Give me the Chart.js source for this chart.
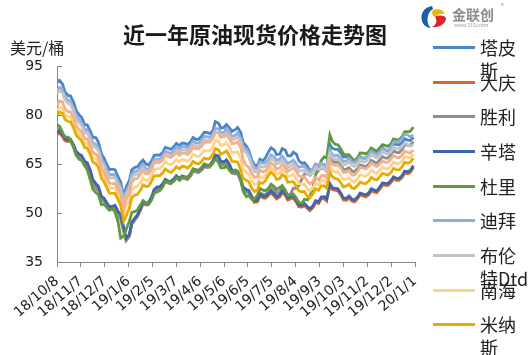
<!DOCTYPE html>
<html><head><meta charset="utf-8">
<script src="https://cdn.jsdelivr.net/npm/chart.js@4"></script>
<style>
html,body{margin:0;padding:0;background:#fff;}
#wrap{position:relative;width:532px;height:355px;overflow:hidden;font-family:"Noto Sans CJK SC","Noto Sans",sans-serif;color:#222;}
canvas{position:absolute;left:0;top:0;}
.t{position:absolute;white-space:nowrap;}
.lg{position:absolute;left:433px;width:42px;height:3px;}
.lt{position:absolute;left:480px;font-size:18px;line-height:23px;white-space:nowrap;color:#222;}
</style></head><body>
<div id="wrap">
<canvas id="c" width="532" height="355"></canvas>
<div class="t" style="left:0;width:510px;text-align:center;top:22px;font-size:22px;line-height:22px;font-weight:bold;color:#1a1a1a;">近一年原油现货价格走势图</div>
<div class="t" style="left:10px;top:39px;font-size:16px;line-height:16px;">美元/桶</div>
<svg style="position:absolute;left:419px;top:4px" width="30" height="26" viewBox="0 0 30 26">
<path d="M13 2 C5 3 1 10 3 17 C4 21 8 24 12 24 C7 20 7 9 14 5 Z" fill="#1f5fa8"/>
<path d="M14 6 C19 4 25 6 26 10 C22 9 18 10 16 13 C14 12 12 9 14 6 Z" fill="#f2b200"/>
<path d="M16 13 C19 11 25 11 27 14 C27 20 20 24 13 23 C17 21 19 17 16 13 Z" fill="#d9252d"/>
</svg>
<div class="t" style="left:452px;top:7px;font-size:14px;line-height:14px;font-weight:bold;color:#8a8a8a;">金联创</div>
<div class="t" style="left:501px;top:3px;font-size:6px;line-height:6px;color:#8a8a8a;">®</div>
<div class="t" style="left:454px;top:22px;font-size:5px;line-height:5px;color:#999;">www.315i.com</div>
<div id="legend"></div>
</div>
<script>
// day offsets from 2018-10-08 (weekly readings and mid-week readings)
const days = [0,7,14,21,28,35,42,49,56,63,70,77,84,91,98,105,112,119,126,133,140,147,154,161,168,175,182,189,196,203,210,217,224,231,238,245,252,259,266,273,280,287,294,301,308,315,322,329,336,343,350,357,364,371,378,385,392,399,406,413,420,427,434,441,448];
const daysMid = [3,10,17,24,31,38,45,52,59,66,73,80,87,94,101,108,115,122,129,136,143,150,157,164,171,178,185,192,199,206,213,220,227,234,241,248,255,262,269,276,283,290,297,304,311,318,325,332,339,346,353,360,367,374,381,388,395,402,409,416,423,430,437,444];
const tickDays = [0,30,60,90,120,150,180,210,240,270,300,330,360,390,420,450];
const tickLabels = ['18/10/8','18/11/7','18/12/7','19/1/6','19/2/5','19/3/7','19/4/6','19/5/6','19/6/5','19/7/5','19/8/4','19/9/3','19/10/3','19/11/2','19/12/2','20/1/1'];
const yTicks = [35,50,65,80,95];

const tapis = [90.2,89.4,86.0,83.8,80.0,77.0,75.0,73.0,68.0,64.6,63.4,61.0,55.0,60.0,64.0,65.4,65.0,66.0,67.8,68.6,69.8,70.3,70.6,71.3,71.8,72.5,73.6,74.6,75.2,77.5,76.2,76.0,75.5,74.6,70.5,66.2,64.5,66.0,68.8,69.3,68.0,69.3,67.5,68.0,65.2,64.2,63.4,64.5,64.7,71.0,69.5,68.3,67.2,66.7,66.2,66.8,67.8,68.6,69.3,69.3,69.5,71.0,71.6,72.3,73.2];
const tapisMid = [90.6,87.1,85.8,81.4,79.2,77.0,73.2,71.7,66.9,63.3,63.2,59.5,58.0,63.2,64.1,66.2,64.7,67.6,67.7,70.1,69.5,71.3,71.4,70.9,73.1,72.6,74.7,74.3,78.0,76.0,77.1,75.0,76.2,71.6,69.2,64.7,66.5,66.9,70.0,67.9,69.7,67.5,68.6,66.0,65.4,63.0,64.9,65.2,64.0,69.8,69.5,67.1,67.8,65.9,67.2,66.8,69.0,68.3,69.9,68.8,71.1,70.8,72.7,72.2];
const daqing = [74.0,73.4,71.9,70.2,67.4,65.2,62.4,58.4,54.4,52.4,51.5,49.8,44.9,42.9,47.9,50.9,52.4,54.4,57.4,58.4,59.2,59.9,60.0,60.5,61.4,62.6,63.2,64.0,65.4,66.9,65.1,64.2,62.2,59.9,56.6,54.4,53.4,54.6,55.4,55.2,54.9,55.4,54.4,53.2,51.8,51.3,51.7,52.9,54.4,58.4,56.9,55.4,53.9,53.6,54.4,55.2,55.6,56.4,57.4,58.5,59.4,60.0,60.9,62.0,63.9];
const daqingMid = [74.5,72.1,72.0,68.3,67.0,64.8,59.6,57.6,54.0,51.3,51.7,48.9,41.6,46.6,48.8,52.7,52.6,56.6,57.4,59.7,59.0,60.8,60.7,60.3,62.9,62.4,64.2,64.1,67.2,65.1,65.7,62.4,62.2,57.3,56.3,53.2,55.2,54.5,56.2,54.3,56.2,54.0,54.6,51.9,52.3,50.7,53.2,54.3,53.7,57.2,56.8,54.0,54.6,53.4,55.5,54.9,56.8,56.2,58.6,58.4,60.5,60.0,62.2,62.4];
const shengli = [75.5,74.5,72.8,70.0,67.0,64.8,61.5,57.5,53.8,52.3,51.6,49.0,44.0,43.0,48.0,51.0,52.6,54.4,57.2,58.4,59.2,59.9,60.2,60.6,61.4,62.6,63.2,64.0,65.3,66.6,64.8,63.9,62.0,59.8,56.4,54.5,54.2,55.8,56.6,57.0,56.6,56.5,56.0,57.5,60.5,62.0,62.6,63.0,63.5,67.0,65.5,64.6,63.4,62.8,63.6,64.4,65.0,65.6,66.3,66.8,68.0,68.5,69.5,70.8,71.8];
const shengliMid = [75.8,73.1,72.3,68.0,66.6,64.2,58.7,56.9,53.7,51.3,51.3,48.0,41.8,46.7,48.9,52.8,52.7,56.5,57.3,59.7,59.0,60.9,60.8,60.3,62.9,62.4,64.2,64.1,67.0,64.8,65.4,62.2,62.0,57.1,56.3,53.7,56.2,55.7,57.7,56.0,57.6,55.4,57.6,58.4,62.0,61.5,63.7,63.9,62.8,65.8,65.7,63.3,63.9,62.6,64.7,64.2,66.1,65.3,67.2,66.8,69.1,68.5,70.9,70.7];
const xinta = [74.6,74.0,72.5,70.8,68.0,65.8,63.0,59.0,55.0,53.0,52.1,50.4,45.5,43.5,48.5,51.5,53.0,55.0,58.0,59.0,59.8,60.5,60.6,61.1,62.0,63.2,63.8,64.6,66.0,67.5,65.7,64.8,62.8,60.5,57.2,55.0,54.0,55.2,56.0,55.8,55.5,56.0,55.0,53.8,52.4,51.9,52.3,53.5,55.0,59.0,57.5,56.0,54.5,54.2,55.0,55.8,56.2,57.0,58.0,59.1,60.0,60.6,61.5,62.6,64.5];
const xintaMid = [75.1,72.7,72.6,68.9,67.6,65.4,60.2,58.2,54.6,51.9,52.3,49.5,42.2,47.2,49.4,53.3,53.2,57.2,58.0,60.3,59.6,61.4,61.3,60.9,63.5,63.0,64.8,64.7,67.8,65.7,66.3,63.0,62.8,57.9,56.9,53.8,55.8,55.1,56.8,54.9,56.8,54.6,55.2,52.5,52.9,51.3,53.8,54.9,54.3,57.8,57.4,54.6,55.2,54.0,56.1,55.5,57.4,56.8,59.2,59.0,61.1,60.6,62.8,63.0];
const duri = [77.0,74.6,73.2,70.0,66.4,64.4,60.0,56.2,52.5,51.6,51.3,47.0,43.0,47.5,50.5,52.5,53.0,54.0,56.5,58.0,59.6,59.8,60.1,61.0,61.8,63.2,64.0,64.7,65.4,65.5,63.8,63.0,63.2,60.1,55.0,54.2,55.5,57.0,57.6,58.1,57.8,57.0,55.5,54.5,53.0,54.0,58.0,63.5,67.2,73.9,71.0,69.5,67.8,66.2,67.0,68.3,68.8,69.3,70.0,70.6,71.3,72.4,73.4,74.9,76.3];
const duriMid = [76.6,73.3,72.5,67.7,66.1,63.2,57.3,55.6,52.7,50.8,50.2,42.3,45.0,50.2,50.9,53.8,52.7,56.0,56.8,59.7,59.1,60.8,61.0,60.7,63.4,63.1,65.0,64.5,66.5,63.8,64.4,62.3,62.8,56.6,55.4,54.2,57.5,56.8,58.8,57.2,58.4,55.4,55.8,53.2,54.2,55.2,61.7,66.0,66.8,72.0,70.9,68.0,67.8,66.0,68.4,68.1,69.9,69.0,70.9,70.4,72.7,72.4,74.9,75.0];
const dubai = [87.5,87.8,84.5,82.0,78.5,75.5,73.5,71.0,66.5,63.0,61.8,59.5,54.0,58.5,62.8,64.0,63.5,64.8,66.5,67.4,68.5,69.0,69.6,70.3,70.8,71.4,72.4,73.3,74.0,75.8,74.8,74.5,73.8,73.0,69.5,65.5,63.5,65.2,66.5,67.2,66.5,66.2,65.7,65.0,64.2,63.2,63.7,64.5,64.7,69.3,67.5,66.7,66.0,65.7,66.2,66.7,67.8,68.3,68.8,69.3,70.0,71.8,72.8,73.9,73.9];
const dubaiMid = [88.5,85.6,84.2,79.8,77.7,75.5,71.5,70.0,65.4,61.7,61.7,58.3,56.8,61.9,62.8,64.8,63.4,66.4,66.5,68.9,68.2,70.1,70.4,69.9,72.0,71.4,73.5,73.1,75.9,74.4,75.7,73.4,74.5,70.3,68.3,63.8,65.6,65.4,67.8,66.1,67.4,65.1,66.2,64.0,64.4,62.7,65.0,65.2,64.0,67.9,67.7,65.7,66.7,65.4,67.2,66.8,68.9,67.9,69.7,69.1,71.7,71.8,74.1,73.3];
const brent = [86.5,86.8,83.5,81.0,77.5,74.5,72.5,70.0,65.5,62.0,60.8,58.5,53.0,57.5,61.8,63.0,62.5,63.8,65.5,66.3,67.4,68.0,68.6,69.3,69.8,70.4,71.3,72.2,73.0,74.7,73.8,73.4,72.7,71.8,68.4,64.4,62.4,64.0,65.4,66.1,65.4,65.0,64.5,63.8,63.0,62.0,62.5,63.3,63.6,68.3,66.4,65.6,65.0,64.6,65.1,65.6,66.7,67.2,67.7,68.2,68.8,69.8,70.4,71.0,71.0];
const brentMid = [87.5,84.6,83.2,78.8,76.7,74.5,70.5,69.0,64.4,60.7,60.7,57.3,55.8,60.9,61.8,63.8,62.4,65.4,65.4,67.8,67.1,69.1,69.4,68.9,71.0,70.3,72.4,72.1,74.8,73.4,74.6,72.3,73.3,69.1,67.2,62.7,64.4,64.3,66.7,65.0,66.2,63.9,65.0,62.8,63.2,61.5,63.8,64.0,62.9,66.9,66.6,64.6,65.7,64.3,66.1,65.7,67.8,66.8,68.6,68.0,70.1,69.6,71.5,70.4];
const nanhai = [81.2,82.0,79.4,77.6,74.0,71.4,69.0,66.6,62.0,59.0,57.6,55.4,49.5,53.8,58.0,59.4,60.0,61.6,63.6,64.5,65.0,65.5,65.6,66.2,66.7,67.4,68.1,69.0,70.4,72.0,71.0,70.0,68.6,66.6,62.3,59.8,59.0,60.8,62.9,63.1,62.2,62.4,61.5,60.4,58.8,57.3,57.9,58.6,59.9,64.4,62.5,61.4,60.4,59.6,60.6,61.4,62.0,62.5,63.1,63.6,64.5,65.1,66.0,67.0,68.0];
const nanhaiMid = [82.4,80.1,79.4,75.3,73.4,71.2,67.0,65.5,61.1,57.6,57.5,54.0,52.2,57.1,58.1,60.7,60.0,63.3,63.6,65.7,64.7,66.4,66.3,65.8,68.0,67.3,69.2,69.1,72.2,70.6,71.5,68.5,68.7,63.5,61.9,58.7,61.1,61.4,63.9,61.9,63.3,61.1,61.8,59.0,58.8,56.8,59.2,59.9,59.2,63.0,62.6,60.2,60.8,59.5,61.7,61.2,63.1,62.1,64.0,63.5,65.6,65.1,67.2,66.9];
const minas = [79.7,80.5,78.0,76.0,72.8,70.0,67.8,65.0,60.5,57.5,56.0,54.0,47.5,51.5,55.5,57.0,58.1,59.8,61.4,62.3,62.8,63.2,63.5,64.2,64.6,65.2,65.8,66.5,68.0,69.3,68.5,67.4,65.7,63.2,60.0,57.5,57.0,59.1,61.6,61.6,60.5,61.1,59.5,58.1,56.5,55.0,56.0,57.0,58.3,62.6,60.5,59.1,58.3,57.6,58.5,59.1,59.8,60.3,61.2,61.8,62.5,63.2,64.2,65.3,66.8];
const minasMid = [80.9,78.7,77.9,73.9,72.1,69.9,65.6,64.0,59.6,56.1,56.0,52.3,49.0,54.7,55.7,58.6,58.2,61.3,61.4,63.5,62.4,64.2,64.3,63.7,65.8,65.0,66.8,66.7,69.7,68.0,69.0,65.8,65.6,60.6,59.6,56.6,59.3,59.9,62.5,60.3,61.8,59.4,59.6,56.7,56.5,54.7,57.4,58.3,57.6,61.1,60.4,58.0,58.8,57.5,59.5,59.0,60.9,60.1,62.1,61.6,63.7,63.2,65.5,65.5];
const series10 = [83.0,84.0,81.0,79.0,75.5,72.8,70.5,68.0,63.5,60.5,59.0,57.0,51.5,56.0,60.5,61.8,62.0,63.5,66.0,66.5,67.4,67.8,67.6,68.3,68.8,69.6,70.5,71.6,72.9,74.6,73.4,72.6,71.4,70.0,64.5,62.0,61.1,62.6,64.2,64.6,63.8,63.7,63.4,62.6,61.1,59.6,59.8,60.1,61.5,66.2,64.5,63.7,62.5,61.6,62.8,63.7,64.2,64.7,65.0,65.5,66.6,67.0,67.8,68.6,69.3];
const series10Mid = [84.3,81.9,80.9,76.8,74.9,72.7,68.5,67.0,62.6,59.1,59.0,55.8,54.3,59.5,60.6,62.9,62.0,65.5,65.8,67.9,67.0,68.5,68.4,67.9,70.1,69.6,71.7,71.7,74.8,73.1,74.0,71.2,71.8,66.3,64.1,60.9,63.1,62.9,65.3,63.4,64.8,62.7,63.8,61.3,61.1,58.9,60.9,61.4,60.8,64.9,64.7,62.4,62.9,61.6,64.0,63.5,65.3,64.2,65.9,65.5,67.6,66.9,68.9,68.4];

const names = ['塔皮斯','大庆','胜利','辛塔','杜里','迪拜','布伦特Dtd','南海','米纳斯'];
const legendText = ['塔皮<br>斯','大庆','胜利','辛塔','杜里','迪拜','布伦<br>特Dtd','南海','米纳<br>斯'];
const colors = ['#4A86C5','#D2692A','#8E8E8E','#3F65AB','#62993E','#90ADDD','#C4C4C4','#FFD28C','#E6AC00','#F4B08A'];
const weekly = [tapis,daqing,shengli,xinta,duri,dubai,brent,nanhai,minas,series10];
const mids = [tapisMid,daqingMid,shengliMid,xintaMid,duriMid,dubaiMid,brentMid,nanhaiMid,minasMid,series10Mid];
const labels = names.concat(['']);

const datasets = weekly.map((arr,i)=>{
  const pts = arr.map((v,j)=>({x:days[j], y:v}))
    .concat(mids[i].map((v,j)=>({x:daysMid[j], y:v})))
    .sort((a,b)=>a.x-b.x);
  return {
    label: labels[i], data: pts,
    borderColor: colors[i], backgroundColor: colors[i],
    borderWidth: 2.8, pointRadius: 0, tension: 0, fill: false,
    order: weekly.length - i
  };
});

// legend
const lg = document.getElementById('legend');
names.forEach((n,i)=>{
  const y = 47.3 + 34.7*i;
  const l = document.createElement('div');
  l.className='lg'; l.style.top=(y-1.5)+'px'; l.style.background=colors[i];
  lg.appendChild(l);
  const t = document.createElement('div');
  t.className='lt'; t.style.top=(y-11.5)+'px'; t.innerHTML=legendText[i];
  lg.appendChild(t);
});

const insideTicks = {
  id:'insideTicks',
  afterDraw(chart){
    const ys = chart.scales.y, ctx = chart.ctx;
    ctx.save(); ctx.strokeStyle='#868686'; ctx.lineWidth=1;
    ys.ticks.forEach(t=>{
      const py = Math.round(ys.getPixelForValue(t.value))+0.5;
      ctx.beginPath(); ctx.moveTo(ys.right, py); ctx.lineTo(ys.right+5, py); ctx.stroke();
    });
    ctx.restore();
  }
};

new Chart(document.getElementById('c'), {
  type:'line',
  data:{datasets},
  plugins:[insideTicks],
  options:{
    responsive:false, animation:false, devicePixelRatio:1,
    layout:{padding:{left:0,right:117,top:66,bottom:0}},
    plugins:{legend:{display:false}, tooltip:{enabled:false}, title:{display:false}},
    scales:{
      x:{
        type:'linear', min:0, max:450,
        afterBuildTicks(s){ s.ticks = tickDays.map(v=>({value:v})); },
        afterFit(s){ s.height = 93; },
        grid:{drawOnChartArea:false, drawTicks:true, tickLength:5, color:'#868686'},
        border:{display:true, color:'#868686', width:1},
        ticks:{autoSkip:false, minRotation:41, maxRotation:41, padding:6, color:'#222',
          font:{family:'DejaVu Sans', size:14},
          callback(v,i){ return tickLabels[i]; }}
      },
      y:{
        min:35, max:95,
        afterBuildTicks(s){ s.ticks = yTicks.map(v=>({value:v})); },
        afterFit(s){ s.width = 57; },
        grid:{drawOnChartArea:false, drawTicks:false},
        border:{display:true, color:'#868686', width:1},
        ticks:{padding:14, color:'#222', font:{family:'DejaVu Sans', size:14}}
      }
    }
  }
});
</script>
</body></html>
